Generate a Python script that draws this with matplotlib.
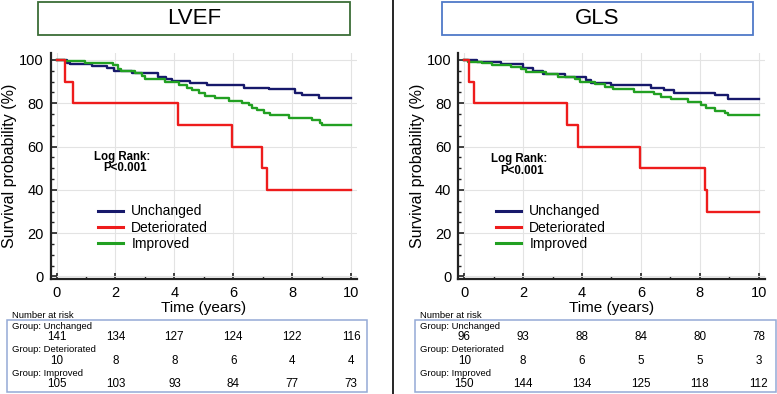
import matplotlib
matplotlib.use("Agg")
import matplotlib.pyplot as plt
from matplotlib.patches import Rectangle
from matplotlib.lines import Line2D
import matplotlib.transforms as mtransforms
from matplotlib import font_manager

plt.rcParams['font.family'] = ['Liberation Sans', 'DejaVu Sans']

# pick a proper (non-condensed) bold Liberation Sans face
BOLD_FP = None
for _f in font_manager.fontManager.ttflist:
    if (_f.name == 'Liberation Sans' and str(_f.weight) in ('700', 'bold')
            and 'narrow' not in _f.fname.lower() and 'italic' not in _f.fname.lower()
            and _f.style == 'normal'):
        BOLD_FP = _f.fname
        break

W, H = 777, 394

# ---------------- data ----------------
groups = ["Unchanged", "Deteriorated", "Improved"]
colors = ["#17196b", "#ee1c1c", "#22a022"]

# LVEF Kaplan-Meier steps (time in years, survival %)
lvef_unch_t = [0, 0.34, 0.45, 1.19, 1.7, 1.96, 2.55, 3.46, 3.7, 3.91, 4.53, 5.1, 6.35, 7.2, 8.1, 8.33, 8.9, 10]
lvef_unch_s = [100, 98.8, 98, 97.2, 96.5, 94.9, 93.8, 92.3, 91, 90.3, 89.2, 88.3, 87.2, 86.7, 84.9, 83.6, 82.4, 82.4]
lvef_det_t = [0, 0.3, 0.56, 4.12, 5.96, 6.96, 7.14, 10]
lvef_det_s = [100, 90, 80, 70, 60, 50, 40, 40]
lvef_imp_t = [0, 0.28, 0.96, 1.93, 2.1, 2.2, 2.66, 2.9, 3.0, 3.68, 4.14, 4.42, 4.6, 4.82, 5.05, 5.38, 5.84,
              6.29, 6.52, 6.63, 6.8, 7.03, 7.26, 7.88, 8.67, 8.96, 9.02, 10]
lvef_imp_s = [100, 99.5, 98.8, 97.5, 95.7, 94.9, 93.8, 92.6, 91, 89.8, 88.3, 87.2, 86, 84.6, 83.3, 82.6, 81,
              80.2, 79, 77.9, 76.9, 75.6, 74.4, 73.3, 72.2, 71, 69.8, 69.8]

# GLS Kaplan-Meier steps
gls_unch_t = [0, 0.42, 1.26, 2.0, 2.34, 2.68, 3.41, 4.15, 4.31, 4.99, 6.35, 6.8, 7.14, 8.5, 8.95, 10]
gls_unch_s = [100, 99.1, 98.0, 96.5, 94.9, 93.4, 92.3, 90.7, 89.5, 88.3, 87.2, 86.1, 84.9, 83.6, 81.8, 81.8]
gls_det_t = [0, 0.18, 0.35, 3.48, 3.87, 5.96, 8.17, 8.26, 10]
gls_det_s = [100, 90, 80, 70, 60, 50, 40, 30, 30]
gls_imp_t = [0, 0.13, 0.59, 0.93, 1.6, 1.94, 2.11, 2.79, 3.19, 3.75, 3.92, 4.43, 4.77, 5.05, 5.78, 6.46,
             6.69, 7.03, 7.6, 8.04, 8.21, 8.5, 8.84, 8.95, 10]
gls_imp_s = [100, 99, 98.5, 97.5, 96.9, 95.7, 94.4, 93.4, 92.3, 91, 89.8, 88.7, 87.7, 86.4, 85.2, 84.1,
             83, 81.8, 80.6, 79, 77.9, 76.4, 75.3, 74.8, 74.8]

risk_times = [0, 2, 4, 6, 8, 10]
lvef_risk_unch = [141, 134, 127, 124, 122, 116]
lvef_risk_det = [10, 8, 8, 6, 4, 4]
lvef_risk_imp = [105, 103, 93, 84, 77, 73]
gls_risk_unch = [96, 93, 88, 84, 80, 78]
gls_risk_det = [10, 8, 6, 5, 5, 3]
gls_risk_imp = [150, 144, 134, 125, 118, 112]

panel_titles = ["LVEF", "GLS"]
title_edge = ["#3b6d37", "#4f7ac8"]

# ---------------- figure ----------------
fig = plt.figure(figsize=(W / 100, H / 100), dpi=100)


def fx(x):
    return x / W


def fy(y):
    return 1 - y / H


def bold_kw(size):
    if BOLD_FP:
        return dict(fontproperties=font_manager.FontProperties(fname=BOLD_FP, size=size))
    return dict(fontsize=size, fontweight="bold", family=["Roboto", "DejaVu Sans"])


panels = [
    dict(title=panel_titles[0], ax_left=50.7, box=(38, 350),
         curves=[(lvef_unch_t, lvef_unch_s), (lvef_det_t, lvef_det_s), (lvef_imp_t, lvef_imp_s)],
         risk=[lvef_risk_unch, lvef_risk_det, lvef_risk_imp], leg_x=98, lr=(121.7, 156.7, 125, 168.3),
         tab=(7, 367), edge=title_edge[0]),
    dict(title=panel_titles[1], ax_left=458.3, box=(442, 753),
         curves=[(gls_unch_t, gls_unch_s), (gls_det_t, gls_det_s), (gls_imp_t, gls_imp_s)],
         risk=[gls_risk_unch, gls_risk_det, gls_risk_imp], leg_x=496, lr=(518.8, 159, 521.7, 170.5),
         tab=(415, 775.5), edge=title_edge[1]),
]

ax_w = 306.3
ax_top, ax_bot = 53.0, 279.3

for p in panels:
    ax = fig.add_axes([fx(p["ax_left"]), fy(ax_bot), ax_w / W, (ax_bot - ax_top) / H])
    order = [0, 2, 1]
    for i in order:
        t, s = p["curves"][i]
        ax.step(t, s, where="post", color=colors[i], lw=1.7, label=groups[i], zorder=3 + (i == 1))
    ax.set_xlim(-0.2, 10.2)
    ax.set_ylim(-1.3, 103.2)
    ax.set_xticks(range(0, 11, 2))
    ax.set_xticks(range(1, 11, 2), minor=True)
    ax.set_yticks(range(0, 101, 20))
    ax.set_yticks(range(0, 101, 5), minor=True)
    ax.grid(True, which="major", color="#e3e3e3", lw=0.8, zorder=0)
    for sp in ["top", "right"]:
        ax.spines[sp].set_visible(False)
    for sp in ["left", "bottom"]:
        ax.spines[sp].set_linewidth(1.6)
        ax.spines[sp].set_color("#222222")
    ax.tick_params(which="major", direction="in", length=4, width=1.2, labelsize=10.5, color="#222222")
    ax.tick_params(which="minor", direction="in", length=2.2, width=1.0, color="#222222")
    ax.tick_params(axis="x", pad=5)
    ax.tick_params(axis="y", pad=5)
    ax.set_xlabel("Time (years)", fontsize=11)
    ax.xaxis.label.set_va("center")
    ax.xaxis.set_label_coords(0.5, (ax_bot - 308) / (ax_bot - ax_top))
    ax.set_ylabel("Survival probability (%)", fontsize=11.5)
    ax.yaxis.label.set_va("center")
    ax.yaxis.set_label_coords(-0.134, 0.5)

    handles = [Line2D([], [], color=c, lw=2.2) for c in colors]
    ax.legend(handles, groups, loc="upper left",
              bbox_to_anchor=((p["leg_x"] - p["ax_left"]) / ax_w, (ax_bot - 204.5) / (ax_bot - ax_top)),
              frameon=False, fontsize=10, borderpad=0, borderaxespad=0, handlelength=1.8,
              handletextpad=0.6, labelspacing=0.15)

    lx1, ly1, lx2, ly2 = p["lr"]
    fig.text(fx(lx1), fy(ly1), "Log Rank:", ha="center", va="center", **bold_kw(8.3))
    fig.text(fx(lx2), fy(ly2), "P<0.001", ha="center", va="center", **bold_kw(8.3))

    # title box
    b0, b1 = p["box"]
    fig.patches.append(Rectangle((fx(b0), fy(35)), (b1 - b0) / W, 33 / H, transform=fig.transFigure,
                                 fill=False, edgecolor=p["edge"], lw=1.3))
    fig.text(fx((b0 + b1) / 2), fy(18.5), p["title"], ha="center", va="center", fontsize=16)

    # number at risk table
    t0, t1 = p["tab"]
    fig.text(fx(t0 + 5), fy(315), "Number at risk", ha="left", va="center", fontsize=6.8)
    fig.patches.append(Rectangle((fx(t0), fy(392)), (t1 - t0) / W, 72 / H, transform=fig.transFigure,
                                 fill=False, edgecolor="#94aad6", lw=1.1))
    trans = mtransforms.blended_transform_factory(ax.transData, fig.transFigure)
    grp_y = [326.5, 349.8, 373.2]
    num_y = [337.5, 361, 384.2]
    for gi, g in enumerate(groups):
        fig.text(fx(t0 + 5), fy(grp_y[gi]), "Group: " + g, ha="left", va="center", fontsize=6.8)
        for tt, n in zip(risk_times, p["risk"][gi]):
            fig.text(tt, fy(num_y[gi]), str(n), transform=trans, ha="center", va="center", fontsize=8.4)

# divider
fig.add_artist(Line2D([fx(393.3), fx(393.3)], [0, 1], transform=fig.transFigure, color="black", lw=1.2))

fig.savefig("out.png", dpi=100)
